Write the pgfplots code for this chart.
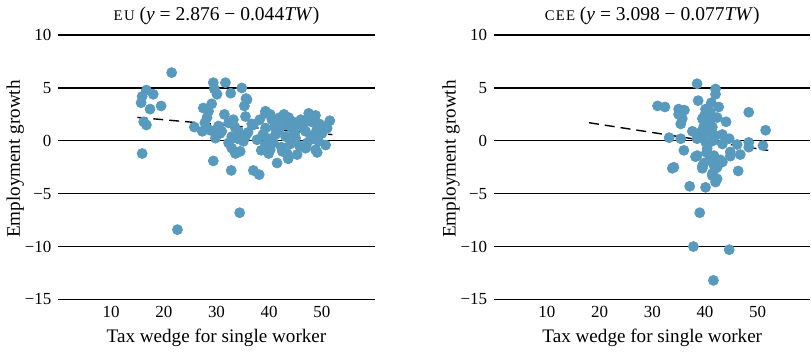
\documentclass[border=0pt]{standalone}
\usepackage{fontspec}
\setmainfont{Liberation Serif}
\usepackage{pgfplots}
\pgfplotsset{compat=1.18}
\definecolor{dot}{RGB}{88,154,190}
\pgfplotsset{panel/.style={
  width=158.7pt, height=132.65pt, scale only axis,
  xmin=0, xmax=60, ymin=-15, ymax=10,
  xtick={10,20,30,40,50},
  ytick={-15,-10,-5,0,5,10},
  yticklabels={−15,−10,−5,0,5,10},
  /pgf/number format/assume math mode=true,
  axis line style={draw=none},
  major tick style={draw=none},
  ymajorgrids, grid style={black, line width=0.6pt},
  label style={font=\fontsize{9.6}{11}\selectfont},
  tick label style={font=\fontsize{8.5}{10}\selectfont},
  title style={font=\fontsize{9.8}{11}\selectfont, at={(axis description cs:0.5,1.074)}, anchor=center, yshift=-6pt},
  xlabel={Tax wedge for single worker},
  ylabel={Employment growth},
  xlabel style={at={(axis description cs:0.5,-0.145)}, anchor=center},
  ylabel style={at={(axis description cs:-0.136,0.531)}, anchor=center, rotate=0},
  clip=false,
}}
\begin{document}
\begin{tikzpicture}
\begin{axis}[panel, at={(0,0)},
  title={{\fontsize{7.4}{8}\selectfont E\kern0.8pt U} (\textit{y} = 2.876 − 0.044\textit{TW})}]
\addplot[only marks, mark=*, mark size=2.5pt, color=dot] table {
x y
21.5 6.45
16.7 4.8
18.0 4.4
15.9 4.2
15.7 3.6
17.4 3.0
19.5 3.3
16.2 1.8
16.7 1.5
15.9 -1.2
25.8 1.3
27.3 0.9
29.4 5.5
31.7 5.5
29.6 4.9
30.1 4.4
32.7 4.5
34.8 5.0
35.6 4.0
35.3 3.3
35.8 3.9
27.5 3.1
29.1 3.5
28.5 2.8
28.2 2.2
35.5 2.3
33.2 2.0
32.3 1.7
27.8 1.7
28.8 1.0
29.8 0.9
30.4 1.4
30.7 0.7
29.8 0.25
32.9 0.4
34.2 0.9
35.5 0.4
35.1 -0.05
32.3 -0.2
32.9 -0.7
33.6 -1.2
34.5 -1.0
29.4 -1.9
32.8 -2.8
37.0 -2.8
38.1 -3.2
37.7 0.1
36.7 1.6
38.2 2.0
39.3 2.8
39.3 2.6
40.2 2.5
42.8 2.5
43.7 2.2
47.5 2.6
48.8 2.4
51.5 1.9
51.0 1.2
41.2 1.8
45.9 1.5
50.1 1.4
39.3 1.2
41.8 1.0
44.3 1.2
46.9 0.9
37.0 1.5
39.6 0.25
41.2 0.6
43.1 0.4
45.0 0.25
47.8 0.1
49.4 -0.05
50.7 -0.4
39.3 -0.4
40.2 -0.85
43.4 -1.2
45.3 -1.3
41.5 -2.1
46.9 -0.7
48.8 -0.85
49.1 -1.1
43.6 -1.7
39.9 -1.2
22.6 -8.4
34.4 -6.8
40.5 2.0
42.0 2.2
44.5 1.8
46.0 2.0
48.0 1.8
49.5 1.6
38.8 0.6
40.8 -0.2
42.3 -0.6
44.0 -0.3
45.8 -0.5
47.2 -0.2
48.5 0.5
50.0 0.7
43.0 1.5
41.0 1.3
46.5 1.2
49.0 1.0
44.8 0.7
42.5 -1.0
47.5 2.0
38.5 -0.9
36.0 0.8
31.0 0.9
31.5 2.5
34.0 0.2
33.5 1.3
};
\addplot[black, line width=0.7pt, dash pattern=on 5pt off 3pt] table {
x y
15 2.216
52 0.588
};
\end{axis}
\begin{axis}[panel, at={(218.7pt,0)},
  title={{\fontsize{7.4}{8}\selectfont C\kern0.6pt E\kern0.6pt E} (\textit{y} = 3.098 − 0.077\textit{TW})}]
\addplot[only marks, mark=*, mark size=2.5pt, color=dot] table {
x y
38.5 5.4
42.0 4.9
42.0 4.4
38.7 3.8
41.2 3.6
31.0 3.3
32.4 3.2
35.0 3.0
36.1 2.9
42.6 3.2
40.1 3.0
35.0 2.5
48.3 2.7
35.7 2.1
39.5 2.1
40.7 2.3
42.3 2.2
35.4 1.6
44.0 1.8
39.8 1.4
41.4 1.3
40.7 1.6
51.5 1.0
37.6 0.9
38.8 0.7
40.7 0.8
43.3 0.6
42.0 0.5
44.6 0.2
33.2 0.3
35.4 0.2
38.5 0.2
40.1 -0.1
43.3 -0.3
46.1 -0.35
48.3 -0.15
51.0 -0.45
48.3 -0.6
36.0 -0.9
40.4 -0.75
44.8 -1.05
46.7 -1.3
44.8 -1.45
38.5 -1.4
38.2 -1.5
41.7 -1.4
42.9 -1.8
43.3 -2.0
39.8 -2.1
39.5 -2.4
41.7 -2.3
42.3 -2.5
34.1 -2.5
33.8 -2.6
46.3 -2.85
41.4 -3.1
39.5 -2.6
42.0 -2.6
41.4 -3.3
42.0 -3.9
42.3 -3.6
37.1 -4.3
40.1 -4.4
39.0 -6.8
37.8 -10.0
44.6 -10.3
41.6 -13.2
40.0 2.5
41.0 2.7
39.5 1.0
41.5 0.0
40.5 -0.4
39.2 0.5
41.0 1.9
40.3 -1.1
40.8 -1.8
};
\addplot[black, line width=0.7pt, dash pattern=on 5pt off 3pt] table {
x y
18 1.712
52 -0.906
};
\end{axis}
\end{tikzpicture}
\end{document}
